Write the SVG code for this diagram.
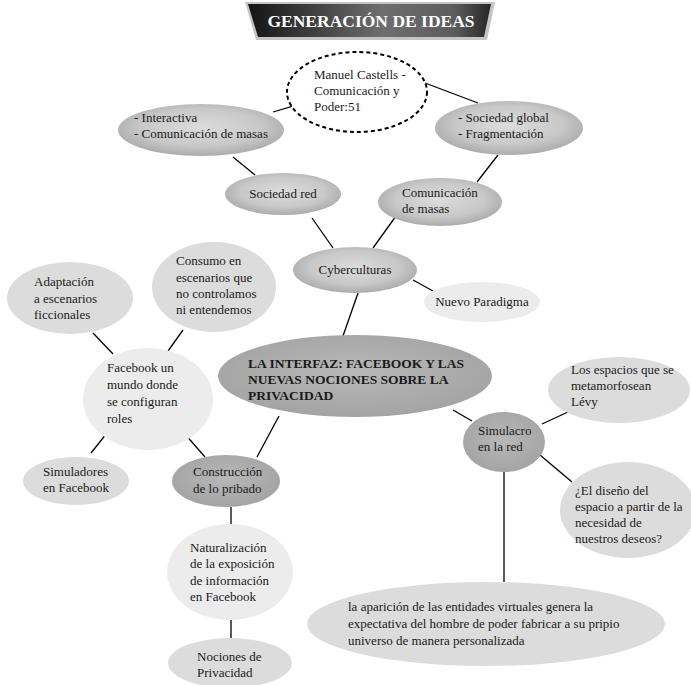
<svg xmlns="http://www.w3.org/2000/svg" width="691" height="685" viewBox="0 0 691 685">
<defs>
<radialGradient id="gMid" cx="50%" cy="45%" r="60%">
<stop offset="0" stop-color="#dcdcdc"/><stop offset="0.6" stop-color="#c8c8c8"/><stop offset="1" stop-color="#a4a4a4"/>
</radialGradient>
<radialGradient id="gDark" cx="50%" cy="45%" r="60%">
<stop offset="0" stop-color="#b8b8b8"/><stop offset="1" stop-color="#a2a2a2"/>
</radialGradient>
<linearGradient id="gTitle" x1="0" y1="0" x2="1" y2="0">
<stop offset="0" stop-color="#141414"/><stop offset="0.55" stop-color="#6e6e6e"/><stop offset="0.85" stop-color="#5c5c5c"/><stop offset="1" stop-color="#252525"/>
</linearGradient>
<style>
text{font-family:"Liberation Serif","Times New Roman",serif;font-size:13px;fill:#1a1a1a}
.c{text-anchor:middle}
.b{font-weight:bold;font-size:13.5px}
.mid{fill:url(#gMid)}
.dark{fill:url(#gDark)}
.lt{fill:#dcdcdc}
.xl{fill:#ececec}
#edges line,#edges polyline{stroke:#000;stroke-width:1.3;fill:none}
</style>
</defs>
<rect width="691" height="685" fill="#fff"/>
<g id="title">
<polygon points="245,2 495,2 487,40 256,40" fill="#c4c4c4"/>
<polygon points="248,4 491,4 484,37 258,37" fill="url(#gTitle)"/>
<text x="371" y="27" class="c" style="font-size:17.5px;font-weight:bold;fill:#fff">GENERACIÓN DE IDEAS</text>
</g>
<g id="edges">
<polyline points="273,112 293,106 292,100"/>
<line x1="425" y1="83" x2="478" y2="103"/>
<line x1="233" y1="157" x2="255" y2="175"/>
<line x1="498" y1="155" x2="477" y2="182"/>
<line x1="312" y1="218" x2="333" y2="248"/>
<line x1="396" y1="216" x2="373" y2="248"/>
<line x1="413" y1="280" x2="433" y2="291"/>
<line x1="358" y1="293" x2="343" y2="336"/>
<line x1="453" y1="410" x2="472" y2="421"/>
<line x1="542" y1="424" x2="568" y2="412"/>
<line x1="540" y1="455" x2="572" y2="482"/>
<line x1="504" y1="472" x2="504" y2="582"/>
<line x1="93" y1="333" x2="113" y2="354"/>
<line x1="183" y1="330" x2="168" y2="351"/>
<line x1="107" y1="433" x2="91" y2="453"/>
<line x1="184" y1="433" x2="205" y2="457"/>
<line x1="279" y1="416" x2="257" y2="457"/>
<line x1="231" y1="507" x2="231" y2="525"/>
<line x1="231" y1="620" x2="231" y2="638"/>
</g>
<g id="castells">
<ellipse cx="357" cy="92" rx="70" ry="40" fill="#fff" stroke="#000" stroke-width="2" stroke-dasharray="4,3"/>
<text x="314" y="79">Manuel Castells -</text>
<text x="314" y="95">Comunicación y</text>
<text x="314" y="111">Poder:51</text>
</g>
<g id="interactiva">
<ellipse cx="201" cy="130" rx="83" ry="26" class="mid"/>
<text x="134" y="122">- Interactiva</text>
<text x="134" y="138">- Comunicación de masas</text>
</g>
<g id="global">
<ellipse cx="509" cy="128" rx="74" ry="27" class="mid"/>
<text x="458" y="122">- Sociedad global</text>
<text x="458" y="138">- Fragmentación</text>
</g>
<g id="sociedadred">
<ellipse cx="283" cy="194" rx="58" ry="21" class="mid"/>
<text x="283" y="198" class="c">Sociedad red</text>
</g>
<g id="comunicacion">
<ellipse cx="440" cy="202" rx="62" ry="24" class="mid"/>
<text x="402" y="197">Comunicación</text>
<text x="402" y="213">de masas</text>
</g>
<g id="cyberculturas">
<ellipse cx="355" cy="270" rx="62" ry="23" class="mid"/>
<text x="355" y="274" class="c">Cyberculturas</text>
</g>
<g id="paradigma">
<ellipse cx="482" cy="302" rx="58" ry="20" class="xl"/>
<text x="482" y="306" class="c">Nuevo Paradigma</text>
</g>
<g id="interfaz">
<ellipse cx="355" cy="376" rx="137" ry="41" class="dark"/>
<text x="248" y="368" class="b">LA INTERFAZ: FACEBOOK Y LAS</text>
<text x="248" y="384" class="b">NUEVAS NOCIONES SOBRE LA</text>
<text x="248" y="400" class="b">PRIVACIDAD</text>
</g>
<g id="simulacro">
<ellipse cx="504" cy="442" rx="41" ry="30" class="dark"/>
<text x="478" y="435">Simulacro</text>
<text x="478" y="451">en la red</text>
</g>
<g id="espacios">
<ellipse cx="619" cy="390" rx="71" ry="33" class="lt"/>
<text x="571" y="374">Los espacios que se</text>
<text x="571" y="390">metamorfosean</text>
<text x="571" y="406">Lévy</text>
</g>
<g id="diseno">
<ellipse cx="628" cy="510" rx="68" ry="48" class="lt"/>
<text x="575" y="495">¿El diseño del</text>
<text x="575" y="511">espacio a partir de la</text>
<text x="575" y="527">necesidad de</text>
<text x="575" y="543">nuestros deseos?</text>
</g>
<g id="entidades">
<ellipse cx="486" cy="624" rx="179" ry="42" class="lt"/>
<text x="348" y="611">la aparición de las entidades virtuales genera la</text>
<text x="348" y="628">expectativa del hombre de poder fabricar a su pripio</text>
<text x="348" y="645">universo de manera personalizada</text>
</g>
<g id="adaptacion">
<ellipse cx="70" cy="298" rx="63" ry="36" class="lt"/>
<text x="34" y="286">Adaptación</text>
<text x="34" y="303">a escenarios</text>
<text x="34" y="319">ficcionales</text>
</g>
<g id="consumo">
<ellipse cx="214" cy="287" rx="62" ry="45" class="lt"/>
<text x="176" y="265">Consumo en</text>
<text x="176" y="282">escenarios que</text>
<text x="176" y="298">no controlamos</text>
<text x="176" y="314">ni entendemos</text>
</g>
<g id="facebook">
<ellipse cx="148" cy="399" rx="65" ry="51" class="xl"/>
<text x="107" y="372">Facebook un</text>
<text x="107" y="389">mundo donde</text>
<text x="107" y="406">se configuran</text>
<text x="107" y="423">roles</text>
</g>
<g id="simuladores">
<ellipse cx="76" cy="481" rx="53" ry="24" class="lt"/>
<text x="43" y="476">Simuladores</text>
<text x="43" y="492">en Facebook</text>
</g>
<g id="construccion">
<ellipse cx="226" cy="481" rx="54" ry="26" class="dark"/>
<text x="193" y="476">Construcción</text>
<text x="193" y="493">de lo pribado</text>
</g>
<g id="naturalizacion">
<ellipse cx="230" cy="572" rx="63" ry="48" class="xl"/>
<text x="190" y="552">Naturalización</text>
<text x="190" y="568">de la exposición</text>
<text x="190" y="585">de información</text>
<text x="190" y="601">en Facebook</text>
</g>
<g id="nociones">
<ellipse cx="230" cy="663" rx="62" ry="25" class="lt"/>
<text x="197" y="661">Nociones de</text>
<text x="197" y="677">Privacidad</text>
</g>
</svg>
